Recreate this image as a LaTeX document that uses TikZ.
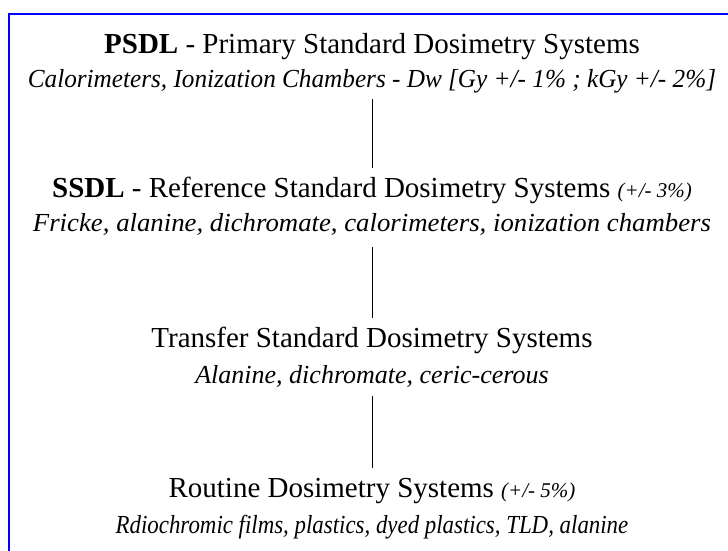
\documentclass[tikz,border=0pt]{standalone}
\usepackage{fontspec}
\usepackage{graphicx}
\setmainfont{Liberation Serif}
\newcommand{\smallpct}[1]{{\fontsize{21}{22}\selectfont\itshape #1}}
\begin{document}
\begin{tikzpicture}[x=1pt,y=-1pt,
  head/.style={inner sep=0pt, anchor=base, text height=20pt, text depth=6pt, font=\fontsize{29}{30}\selectfont},
  sub/.style={inner sep=0pt, anchor=base, text height=19pt, text depth=7pt, font=\fontsize{26}{28}\selectfont\itshape},
  link/.style={draw=black, line width=0.8pt, shorten <=5pt, shorten >=9pt},
  frame/.style={draw={rgb,255:red,0;green,0;blue,255}, line width=1.5pt}]
\useasboundingbox (0,0) rectangle (728,551);
\draw[frame] (9,551) -- (9,14) -- (728,14);

\node[head] (h1) at (372,53) {\textbf{PSDL} - Primary Standard Dosimetry Systems};
\node[sub]  (s1) at (372,87) {\scalebox{0.97}[1]{Calorimeters, Ionization Chambers \upshape-\itshape{} Dw [Gy +/- 1\% ; kGy +/- 2\%]}};

\node[head] (h2) at (372,197) {\textbf{SSDL} - Reference Standard Dosimetry Systems \smallpct{(+/- 3\%)}};
\node[sub]  (s2) at (372,231) {\scalebox{1.03}[1]{Fricke, alanine, dichromate, calorimeters, ionization chambers}};

\node[head] (h3) at (372,347) {Transfer Standard Dosimetry Systems};
\node[sub]  (s3) at (372,383) {Alanine, dichromate, ceric-cerous};

\node[head] (h4) at (372,497) {Routine Dosimetry Systems \smallpct{(+/- 5\%)}};
\node[sub]  (s4) at (372,533) {\scalebox{0.88}[1]{Rdiochromic films, plastics, dyed plastics, TLD, alanine}};

\draw[link] (s1.south) -- (h2.north);
\draw[link, shorten <=9pt] (s2.south) -- (h3.north);
\draw[link, shorten <=6pt] (s3.south) -- (h4.north);
\end{tikzpicture}
\end{document}
